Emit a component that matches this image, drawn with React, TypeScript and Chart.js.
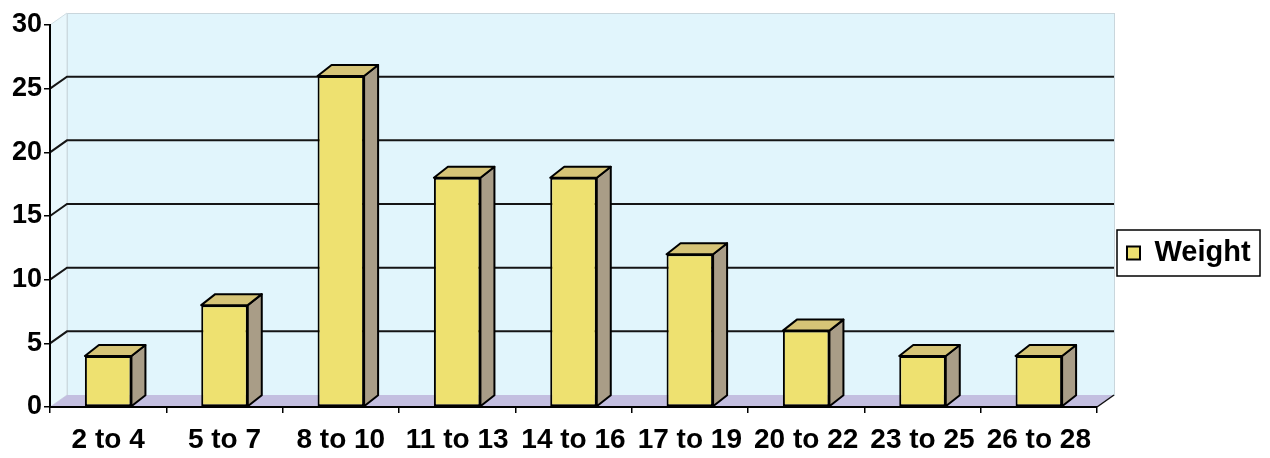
import React, { useEffect, useRef } from "react";
import { Chart, registerables } from "chart.js";

Chart.register(...registerables);

const categories = ["2 to 4", "5 to 7", "8 to 10", "11 to 13", "14 to 16", "17 to 19", "20 to 22", "23 to 25", "26 to 28"];
const weightValues = [4, 8, 26, 18, 18, 12, 6, 4, 4];
const seriesName = "Weight";
const yMin = 0;
const yMax = 30;
const yStep = 5;

const FONT = "'Liberation Sans', Arial, sans-serif";
const BAR_FRONT = "#eee170";
const BAR_TOP = "#d6c477";
const BAR_SIDE = "#a99d87";
const WALL_BACK = "#e1f5fc";
const WALL_LEFT = "#e8f7fc";
const FLOOR = "#c3bfe0";
const WALL_DX = 17;
const WALL_DY = -12;
const BAR_DX = 14;
const BAR_DY = -11;

const threeD = {
  id: "threeD",
  beforeDraw(chart: any) {
    const { ctx, chartArea } = chart;
    const ys = chart.scales.y;
    const { left, right, top, bottom } = chartArea;
    ctx.save();
    // back wall
    ctx.fillStyle = WALL_BACK;
    ctx.fillRect(left + WALL_DX, top + WALL_DY, right - left, bottom - top);
    ctx.strokeStyle = "#c9d6dc";
    ctx.lineWidth = 1;
    ctx.strokeRect(left + WALL_DX + 0.5, top + WALL_DY + 0.5, right - left, bottom - top);
    // left wall
    ctx.fillStyle = WALL_LEFT;
    ctx.beginPath();
    ctx.moveTo(left, bottom);
    ctx.lineTo(left, top);
    ctx.lineTo(left + WALL_DX, top + WALL_DY);
    ctx.lineTo(left + WALL_DX, bottom + WALL_DY);
    ctx.closePath();
    ctx.fill();
    ctx.strokeStyle = "#d0dde3";
    ctx.stroke();
    // floor
    ctx.fillStyle = FLOOR;
    ctx.beginPath();
    ctx.moveTo(left, bottom);
    ctx.lineTo(right, bottom);
    ctx.lineTo(right + WALL_DX, bottom + WALL_DY);
    ctx.lineTo(left + WALL_DX, bottom + WALL_DY);
    ctx.closePath();
    ctx.fill();
    ctx.strokeStyle = "#111";
    ctx.lineWidth = 1.5;
    ctx.beginPath();
    ctx.moveTo(right, bottom);
    ctx.lineTo(right + WALL_DX, bottom + WALL_DY);
    ctx.stroke();
    // gridlines
    ctx.strokeStyle = "#151515";
    ctx.lineWidth = 2;
    ys.ticks.forEach((t: any) => {
      if (t.value <= yMin || t.value >= yMax) return;
      const y = ys.getPixelForValue(t.value);
      ctx.beginPath();
      ctx.moveTo(left, y);
      ctx.lineTo(left + WALL_DX, y + WALL_DY);
      ctx.lineTo(right + WALL_DX, y + WALL_DY);
      ctx.stroke();
    });
    ctx.restore();

    // place legend
    const lg = chart.legend;
    if (lg) {
      lg.left = chart.width - 153;
      lg.top = 230;
      lg.width = 143;
      lg.height = 46;
      lg.right = lg.left + lg.width;
      lg.bottom = lg.top + lg.height;
    }
  },
  afterDatasetsDraw(chart: any) {
    const { ctx } = chart;
    const meta = chart.getDatasetMeta(0);
    ctx.save();
    ctx.strokeStyle = "#000";
    ctx.lineWidth = 2;
    ctx.lineJoin = "round";
    meta.data.forEach((bar: any) => {
      const { x, y, base, width } = bar.getProps(["x", "y", "base", "width"], true);
      const l = x - width / 2;
      const r = x + width / 2;
      // side
      ctx.fillStyle = BAR_SIDE;
      ctx.beginPath();
      ctx.moveTo(r, y);
      ctx.lineTo(r + BAR_DX, y + BAR_DY);
      ctx.lineTo(r + BAR_DX, base + BAR_DY);
      ctx.lineTo(r, base);
      ctx.closePath();
      ctx.fill();
      ctx.stroke();
      // top
      ctx.fillStyle = BAR_TOP;
      ctx.beginPath();
      ctx.moveTo(l, y);
      ctx.lineTo(l + BAR_DX, y + BAR_DY);
      ctx.lineTo(r + BAR_DX, y + BAR_DY);
      ctx.lineTo(r, y);
      ctx.closePath();
      ctx.fill();
      ctx.stroke();
    });
    ctx.restore();
  },
  afterDraw(chart: any) {
    const lg = chart.legend;
    if (!lg) return;
    const { ctx } = chart;
    ctx.save();
    ctx.strokeStyle = "#000";
    ctx.lineWidth = 1.5;
    ctx.strokeRect(lg.left, lg.top, lg.width, lg.height);
    ctx.restore();
  },
};

export default function App() {
  const ref = useRef<HTMLCanvasElement | null>(null);
  useEffect(() => {
    document.body.style.margin = "0";
    const canvas = ref.current!;
    const chart = new Chart(canvas, {
      type: "bar",
      data: {
        labels: categories,
        datasets: [
          {
            label: seriesName,
            data: weightValues,
            backgroundColor: BAR_FRONT,
            borderColor: "#000",
            borderWidth: 2,
            borderSkipped: false,
            categoryPercentage: 1,
            barPercentage: 0.4,
          },
        ],
      },
      options: {
        responsive: false,
        animation: false,
        layout: { padding: { top: 25, right: 173, left: 0, bottom: 0 } },
        plugins: {
          tooltip: { enabled: false },
          legend: {
            position: "chartArea" as any,
            align: "center",
            labels: {
              boxWidth: 13,
              boxHeight: 13,
              padding: 10,
              color: "#000",
              font: { family: FONT, size: 29, weight: "bold" },
            },
          },
        },
        scales: {
          x: {
            afterFit: (s: any) => { s.height = 51; },
            grid: { drawOnChartArea: false, drawTicks: true, tickLength: 6, color: "#000", lineWidth: 1.5, offset: true },
            border: { display: true, color: "#000", width: 2 },
            ticks: { color: "#000", padding: 10, font: { family: FONT, size: 28, weight: "bold" }, maxRotation: 0, autoSkip: false },
          },
          y: {
            min: yMin,
            max: yMax,
            afterFit: (s: any) => { s.width = 50; },
            grid: { drawOnChartArea: false, drawTicks: true, tickLength: 6, color: "#000", lineWidth: 1.5 },
            border: { display: true, color: "#000", width: 2 },
            ticks: { stepSize: yStep, color: "#000", padding: 2, font: { family: FONT, size: 27, weight: "bold" } },
          },
        },
      },
      plugins: [threeD],
    });
    return () => chart.destroy();
  }, []);
  return <canvas ref={ref} width={1270} height={458} style={{ display: "block" }} />;
}
